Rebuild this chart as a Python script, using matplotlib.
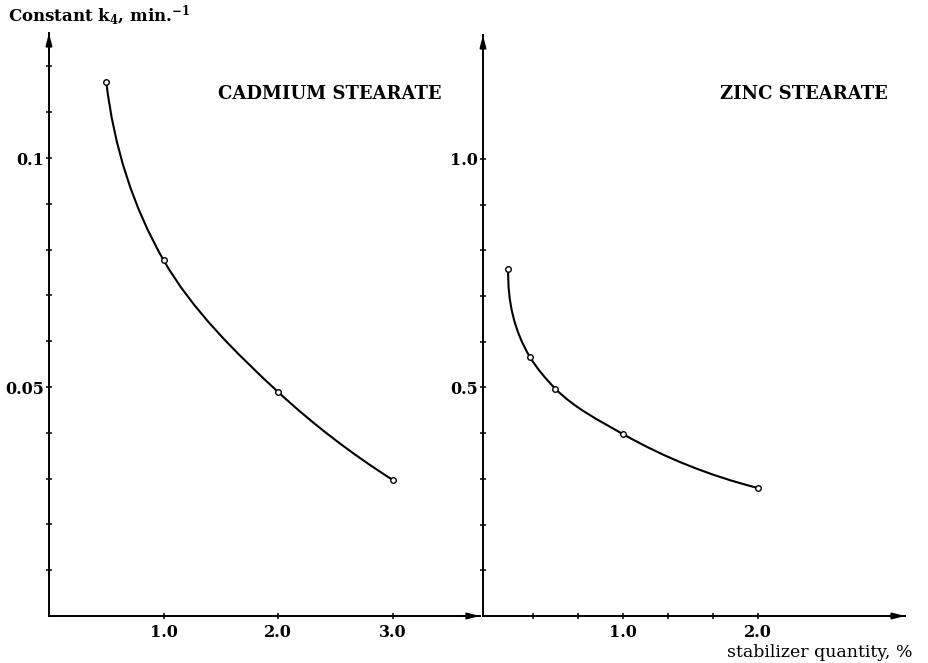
import numpy as np
import matplotlib
matplotlib.use('Agg')
import matplotlib.pyplot as plt
from matplotlib.path import Path
from matplotlib.patches import PathPatch
from matplotlib.ticker import FixedLocator, NullFormatter

plt.rcParams['font.family'] = 'DejaVu Serif'
plt.rcParams['mathtext.fontset'] = 'dejavuserif'

# cadmium stearate
cd_x = [0.5, 1.0, 2.0, 3.0]
cd_k = [0.1166, 0.0777, 0.0489, 0.0297]
# zinc stearate
zn_x = [0.15, 0.31, 0.5, 1.0, 2.0]
zn_k = [0.759, 0.567, 0.497, 0.398, 0.28]

cd_xticks = [1.0, 2.0, 3.0]
cd_xlabels = ['1.0', '2.0', '3.0']
cd_yticks = [0.05, 0.1]
cd_ylabels = ['0.05', '0.1']
zn_xticks = [1.0, 2.0]
zn_xlabels = ['1.0', '2.0']
zn_yticks = [0.5, 1.0]
zn_ylabels = ['0.5', '1.0']


def smooth_path(ax, xs, ys):
    # hermite curve through the points, chord-length spacing in screen units,
    # returned as bezier segments in data coords
    fig.canvas.draw()
    pts = ax.transData.transform(np.column_stack([xs, ys]))
    n = len(pts)
    d = np.linalg.norm(np.diff(pts, axis=0), axis=1)
    m = np.zeros_like(pts)
    for i in range(1, n - 1):
        a = (pts[i] - pts[i - 1]) / d[i - 1]
        b = (pts[i + 1] - pts[i]) / d[i]
        m[i] = (a * d[i] + b * d[i - 1]) / (d[i - 1] + d[i])
    m[0] = 2 * (pts[1] - pts[0]) / d[0] - m[1]
    m[-1] = 2 * (pts[-1] - pts[-2]) / d[-1] - m[-2]
    verts = [pts[0]]
    codes = [Path.MOVETO]
    for i in range(n - 1):
        verts += [pts[i] + m[i] * d[i] / 3, pts[i + 1] - m[i + 1] * d[i] / 3, pts[i + 1]]
        codes += [Path.CURVE4] * 3
    verts = ax.transData.inverted().transform(np.array(verts))
    return Path(verts, codes)


def setup(ax, xlim, ylim, yminor, xminor):
    ax.set_xlim(*xlim)
    ax.set_ylim(*ylim)
    for s in ['top', 'right']:
        ax.spines[s].set_visible(False)
    for s in ['left', 'bottom']:
        ax.spines[s].set_linewidth(1.4)
    ax.yaxis.set_minor_locator(FixedLocator(yminor))
    ax.xaxis.set_minor_locator(FixedLocator(xminor))
    ax.yaxis.set_minor_formatter(NullFormatter())
    ax.xaxis.set_minor_formatter(NullFormatter())
    ax.tick_params(which='both', direction='inout', length=5, width=1.1)
    ax.tick_params(axis='y', pad=1, labelsize=11.5)
    ax.tick_params(axis='x', pad=3, labelsize=11.5)
    ax.patch.set_alpha(0)
    # arrow heads on the axes
    ax.annotate('', xy=(0, 1), xytext=(0, 0.97), xycoords='axes fraction',
                arrowprops=dict(arrowstyle='-|>,head_length=0.7,head_width=0.18',
                                color='black', lw=1.4, shrinkA=0, shrinkB=0))
    ax.annotate('', xy=(1, 0), xytext=(0.96, 0), xycoords='axes fraction',
                arrowprops=dict(arrowstyle='-|>,head_length=0.7,head_width=0.18',
                                color='black', lw=1.4, shrinkA=0, shrinkB=0))


fig = plt.figure(figsize=(9.29, 6.63), dpi=100)

ax1 = fig.add_axes([0.0527, 0.0709, 0.4639, 0.8793])
setup(ax1, (0, 3.76), (0, 0.1273), np.arange(1, 13) * 0.01, [])
ax1.set_xticks(cd_xticks)
ax1.set_xticklabels(cd_xlabels, fontweight='bold')
ax1.set_yticks(cd_yticks)
ax1.set_yticklabels(cd_ylabels, fontweight='bold')

ax2 = fig.add_axes([0.5199, 0.0709, 0.4543, 0.8763])
setup(ax2, (-0.037, 3.09), (0, 1.271), np.arange(1, 11) * 0.1, np.arange(1, 7) / 3)
ax2.set_xticks(zn_xticks)
ax2.set_xticklabels(zn_xlabels, fontweight='bold')
ax2.set_yticks(zn_yticks)
ax2.set_yticklabels(zn_ylabels, fontweight='bold')

ax1.add_patch(PathPatch(smooth_path(ax1, cd_x, cd_k), fill=False, lw=1.5, color='black'))
ax1.plot(cd_x, cd_k, 'o', ms=4, mfc='white', mec='black', mew=1.0)
ax2.add_patch(PathPatch(smooth_path(ax2, zn_x, zn_k), fill=False, lw=1.5, color='black'))
ax2.plot(zn_x, zn_k, 'o', ms=4, mfc='white', mec='black', mew=1.0)

fig.text(0.0086, 0.967, r'Constant k$_\mathbf{4}$, min.$^{\mathbf{-1}}$',
         fontsize=12, fontweight='bold', va='baseline')
fig.text(0.2347, 0.851, 'CADMIUM STEARATE', fontsize=13, fontweight='bold', va='baseline')
fig.text(0.775, 0.851, 'ZINC STEARATE', fontsize=13, fontweight='bold', va='baseline')
fig.text(0.7826, 0.009, 'stabilizer quantity, %', fontsize=12.5, va='baseline')

fig.savefig('out.png', dpi=100)
